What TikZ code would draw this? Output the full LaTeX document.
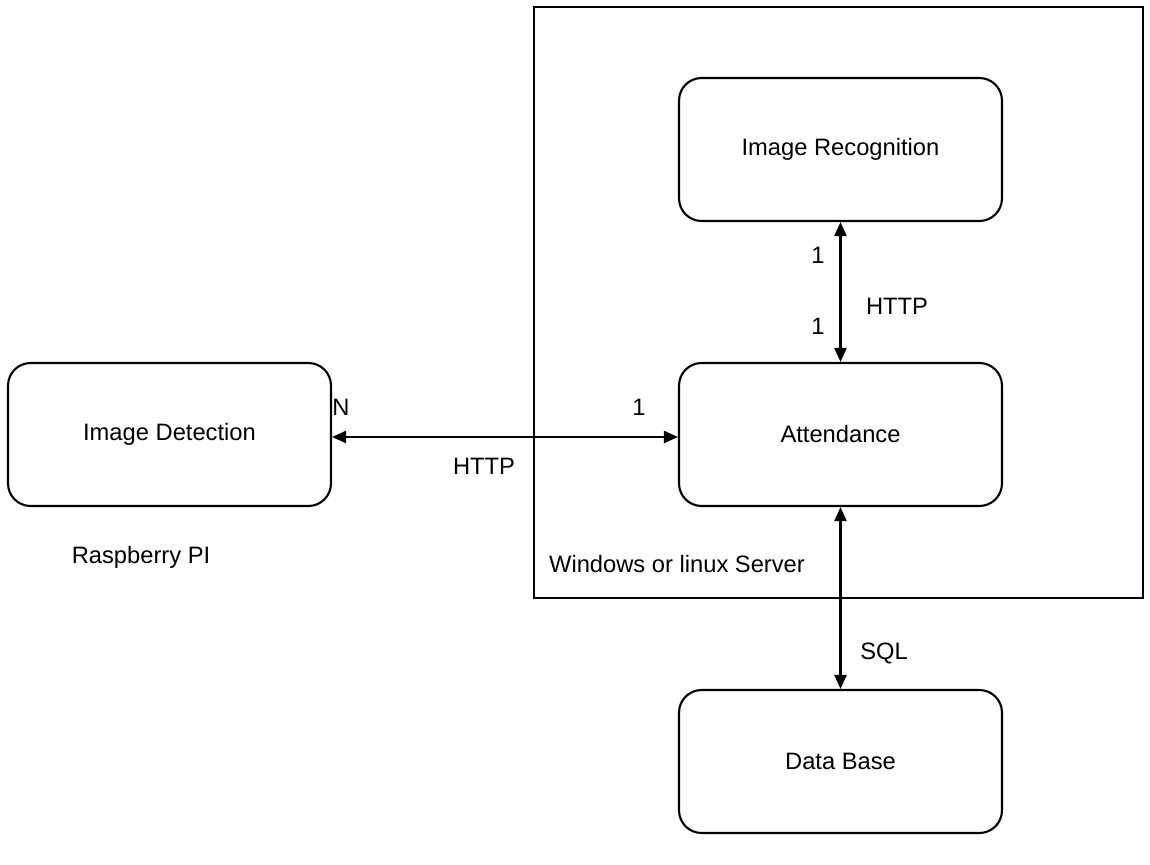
\documentclass[tikz,border=0pt]{standalone}
\usepackage{fontspec}
\setmainfont{Liberation Sans}
\usetikzlibrary{arrows.meta}

\tikzset{
  unit/.style={draw=black, line width=1.2pt, rounded corners=0.45cm, minimum width=6.46cm, minimum height=2.86cm, font=\fontsize{13.5}{16}\selectfont},
  link/.style={black, line width=1.3pt, {Triangle[length=0.28cm,width=0.24cm]}-{Triangle[length=0.28cm,width=0.24cm]}},
  lbl/.style={font=\fontsize{13.5}{16}\selectfont, inner sep=0pt}
}

\begin{document}
\begin{tikzpicture}[x=0.02cm, y=-0.02cm]
\useasboundingbox (0,0) rectangle (1150,865);
\draw[black, line width=1.1pt] (534,7) rectangle (1143,598);
\node[unit] (recog) at (840.5,149.5) {Image Recognition};
\node[unit] (attend) at (840.5,434.5) {Attendance};
\node[unit] (detect) at (169.5,434.5) {Image Detection};
\node[unit] (db) at (840.5,761.5) {Data Base};
\draw[link] (detect.east |- 0,437) -- (attend.west |- 0,437);
\draw[link] (recog) -- (attend);
\draw[link] (attend) -- (db);
\node[lbl] (n1) at (818,255) {1};
\node[lbl] (n2) at (818,326) {1};
\node[lbl] (h1) at (897,306) {HTTP};
\node[lbl] (nn) at (341,407) {N};
\node[lbl] (n3) at (639,407) {1};
\node[lbl] (h2) at (484,466) {HTTP};
\node[lbl] (sql) at (884,653) {SQL};
\node[lbl] (pi) at (141,557) {Raspberry PI};
\node[lbl] (srv) at (677,564) {Windows or linux Server};
\end{tikzpicture}
\end{document}
